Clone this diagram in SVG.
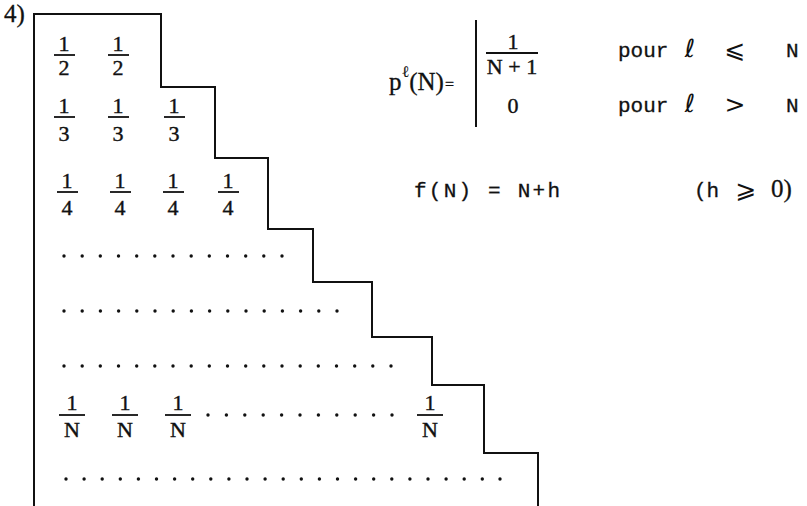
<svg xmlns="http://www.w3.org/2000/svg" width="807" height="506" viewBox="0 0 807 506">
<defs>
<style>
.ln{fill:none;stroke:#111;stroke-width:2}
.bar{stroke:#111;stroke-width:1.8}
.fr{font-family:"Liberation Serif","DejaVu Serif",serif;font-size:22px;fill:#111;stroke:#111;stroke-width:0.4;text-anchor:middle}
.sr{font-family:"Liberation Serif","DejaVu Serif",serif;font-size:25px;fill:#111;stroke:#111;stroke-width:0.3}
.mo{font-family:"Liberation Mono","DejaVu Sans Mono",monospace;font-size:21px;fill:#111;stroke:#111;stroke-width:0.3}
.mt{font-family:"DejaVu Sans","Liberation Serif",sans-serif;font-size:25px;fill:#111;text-anchor:middle}
.dot{fill:#111}
</style>
<circle id="d" r="1.7" class="dot"/>
</defs>
<rect width="807" height="506" fill="#fff"/>
<text x="4" y="22" class="sr" font-size="20">4)</text>
<g id="outline">
<path class="ln" d="M34,506 V14 H161 V87 H215 V158 H268 V229 H313 V282 H372 V337 H432 V385 H484 V453 H538 V506"/>
</g>
<g id="fractions">
<g id="r2">
<text class="fr" x="64" y="51">1</text><line class="bar" x1="54" x2="75" y1="55" y2="55"/><text class="fr" x="64" y="75">2</text>
<text class="fr" x="118" y="51">1</text><line class="bar" x1="108" x2="129" y1="55" y2="55"/><text class="fr" x="118" y="75">2</text>
</g>
<g id="r3">
<text class="fr" x="64" y="113">1</text><line class="bar" x1="54" x2="75" y1="117" y2="117"/><text class="fr" x="64" y="141">3</text>
<text class="fr" x="118" y="113">1</text><line class="bar" x1="108" x2="129" y1="117" y2="117"/><text class="fr" x="118" y="141">3</text>
<text class="fr" x="174" y="113">1</text><line class="bar" x1="164" x2="185" y1="117" y2="117"/><text class="fr" x="174" y="141">3</text>
</g>
<g id="r4">
<text class="fr" x="67" y="188">1</text><line class="bar" x1="57" x2="78" y1="192" y2="192"/><text class="fr" x="67" y="215">4</text>
<text class="fr" x="120" y="188">1</text><line class="bar" x1="110" x2="131" y1="192" y2="192"/><text class="fr" x="120" y="215">4</text>
<text class="fr" x="173" y="188">1</text><line class="bar" x1="163" x2="184" y1="192" y2="192"/><text class="fr" x="173" y="215">4</text>
<text class="fr" x="228" y="188">1</text><line class="bar" x1="218" x2="239" y1="192" y2="192"/><text class="fr" x="228" y="215">4</text>
</g>
<g id="rN">
<text class="fr" x="72" y="410">1</text><line class="bar" x1="59" x2="85" y1="415" y2="415"/><text class="fr" x="72" y="437">N</text>
<text class="fr" x="125" y="410">1</text><line class="bar" x1="112" x2="138" y1="415" y2="415"/><text class="fr" x="125" y="437">N</text>
<text class="fr" x="178" y="410">1</text><line class="bar" x1="165" x2="191" y1="415" y2="415"/><text class="fr" x="178" y="437">N</text>
<text class="fr" x="430" y="410">1</text><line class="bar" x1="417" x2="443" y1="415" y2="415"/><text class="fr" x="430" y="437">N</text>
</g>
</g>
<g id="dots">
<g transform="translate(64,256)">
<use href="#d" x="0"/><use href="#d" x="18.2"/><use href="#d" x="36.3"/><use href="#d" x="54.5"/><use href="#d" x="72.7"/><use href="#d" x="90.8"/><use href="#d" x="109"/><use href="#d" x="127.2"/><use href="#d" x="145.3"/><use href="#d" x="163.5"/><use href="#d" x="181.7"/><use href="#d" x="199.8"/><use href="#d" x="218"/>
</g>
<g transform="translate(64,311)">
<use href="#d" x="0"/><use href="#d" x="18.2"/><use href="#d" x="36.4"/><use href="#d" x="54.6"/><use href="#d" x="72.8"/><use href="#d" x="91"/><use href="#d" x="109.2"/><use href="#d" x="127.4"/><use href="#d" x="145.6"/><use href="#d" x="163.8"/><use href="#d" x="182"/><use href="#d" x="200.2"/><use href="#d" x="218.4"/><use href="#d" x="236.6"/><use href="#d" x="254.8"/><use href="#d" x="273"/>
</g>
<g transform="translate(64,366)">
<use href="#d" x="0"/><use href="#d" x="18.2"/><use href="#d" x="36.3"/><use href="#d" x="54.5"/><use href="#d" x="72.7"/><use href="#d" x="90.8"/><use href="#d" x="109"/><use href="#d" x="127.2"/><use href="#d" x="145.3"/><use href="#d" x="163.5"/><use href="#d" x="181.7"/><use href="#d" x="199.8"/><use href="#d" x="218"/><use href="#d" x="236.2"/><use href="#d" x="254.3"/><use href="#d" x="272.5"/><use href="#d" x="290.7"/><use href="#d" x="308.8"/><use href="#d" x="327"/>
</g>
<g transform="translate(208,415)">
<use href="#d" x="0"/><use href="#d" x="18.4"/><use href="#d" x="36.8"/><use href="#d" x="55.2"/><use href="#d" x="73.6"/><use href="#d" x="92"/><use href="#d" x="110.4"/><use href="#d" x="128.8"/><use href="#d" x="147.2"/><use href="#d" x="165.6"/><use href="#d" x="184"/>
</g>
<g transform="translate(66,479)">
<use href="#d" x="0"/><use href="#d" x="18.1"/><use href="#d" x="36.2"/><use href="#d" x="54.3"/><use href="#d" x="72.4"/><use href="#d" x="90.5"/><use href="#d" x="108.6"/><use href="#d" x="126.7"/><use href="#d" x="144.8"/><use href="#d" x="162.9"/><use href="#d" x="181"/><use href="#d" x="199.1"/><use href="#d" x="217.2"/><use href="#d" x="235.3"/><use href="#d" x="253.4"/><use href="#d" x="271.5"/><use href="#d" x="289.6"/><use href="#d" x="307.7"/><use href="#d" x="325.8"/><use href="#d" x="343.9"/><use href="#d" x="362"/><use href="#d" x="380.1"/><use href="#d" x="398.2"/><use href="#d" x="416.3"/><use href="#d" x="434"/>
</g>
</g>
<g id="formula-p">
<text class="sr" x="389" y="90">p<tspan font-size="16" dy="-13" stroke-width="0.1">ℓ</tspan><tspan dy="13">(N)</tspan><tspan dx="1" font-size="16">=</tspan></text>
<line class="ln" x1="476" y1="20" x2="476" y2="127"/>
<text class="fr" x="513" y="49">1</text>
<line class="bar" x1="486" x2="538" y1="53" y2="53"/>
<text class="fr" x="512" y="74">N + 1</text>
<text class="fr" x="513" y="113" stroke-width="0.2">0</text>
<text class="mo" x="618" y="57">pour</text>
<text class="mt" x="690" y="57" font-family="Liberation Serif" font-style="italic" font-size="24">ℓ</text>
<text class="mt" x="735" y="58">⩽</text>
<text class="mo" x="786" y="57">N</text>
<text class="mo" x="618" y="112">pour</text>
<text class="mt" x="690" y="112" font-family="Liberation Serif" font-style="italic" font-size="24">ℓ</text>
<text class="mt" x="735" y="113">&gt;</text>
<text class="mo" x="786" y="112">N</text>
</g>
<g id="formula-f">
<text class="mo" x="414" y="197" font-size="20" textLength="146" lengthAdjust="spacing">f(N) = N+h</text>
<text class="mo" x="694" y="197" font-size="20">(h</text>
<text class="mt" x="746" y="198" font-size="23">⩾</text>
<text class="sr" x="771" y="197" font-size="21" stroke-width="0.2">0)</text>
</g>
</svg>
